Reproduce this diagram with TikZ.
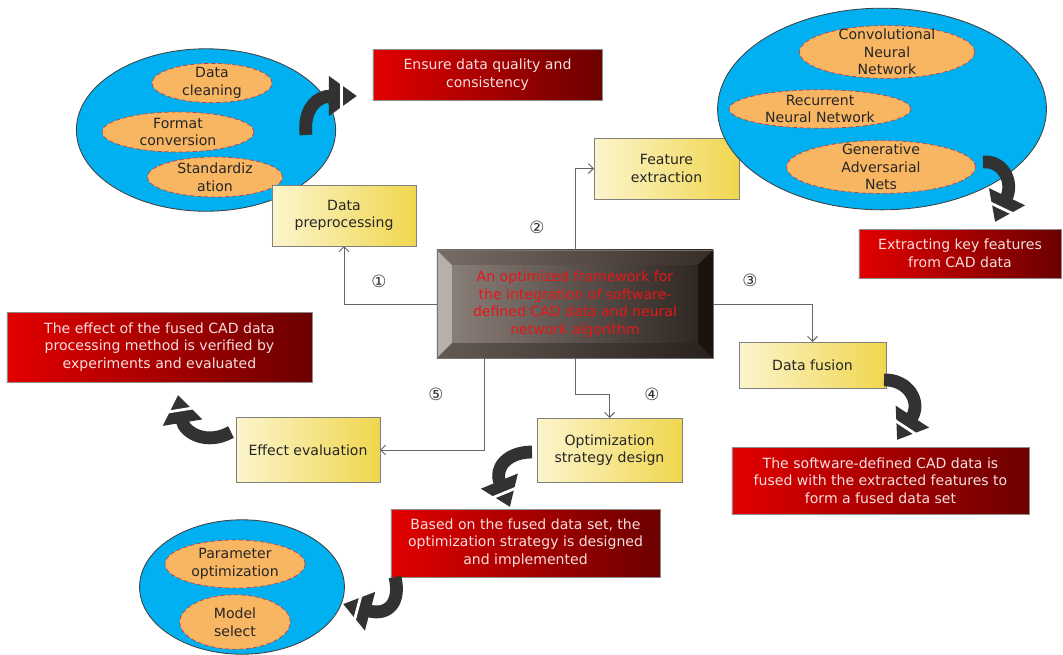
\documentclass[tikz,border=0pt]{standalone}
\usepackage{fontspec}
\setmainfont{DejaVu Sans}
\usetikzlibrary{arrows.meta,calc}

\definecolor{yelL}{RGB}{252,245,205}
\definecolor{yelR}{RGB}{240,214,78}
\definecolor{redL}{RGB}{226,0,0}
\definecolor{redR}{RGB}{108,0,0}
\definecolor{redtxt}{RGB}{248,222,222}
\definecolor{skyfill}{RGB}{0,176,240}
\definecolor{orfill}{RGB}{248,182,98}
\definecolor{dashred}{RGB}{200,60,60}
\definecolor{darkarrow}{RGB}{50,50,50}
\definecolor{innerL}{RGB}{142,130,124}
\definecolor{innerR}{RGB}{42,34,30}
\definecolor{bevTopL}{RGB}{120,108,102}
\definecolor{bevTopR}{RGB}{56,46,40}
\definecolor{bevBotL}{RGB}{100,90,84}
\definecolor{bevBotR}{RGB}{40,32,28}
\definecolor{bevLeft}{RGB}{182,176,173}
\definecolor{bevRight}{RGB}{26,20,16}
\definecolor{titlered}{RGB}{232,22,22}

\begin{document}
\begin{tikzpicture}[
    x=0.025cm, y=-0.025cm,
    every node/.style={font=\fontsize{10}{12.5}\selectfont, outer sep=0pt},
    yelbox/.style={draw=black!50, line width=0.6pt, left color=yelL, right color=yelR,
        align=center, inner sep=0pt, text=black!85},
    redbox/.style={draw=black!45, line width=0.5pt, left color=redL, right color=redR,
        align=center, inner sep=0pt, text=redtxt},
    mainbox/.style={draw=black!55, line width=0.5pt, left color=innerL, right color=innerR,
        align=center, inner sep=0pt, text=titlered, minimum width=6.9cm, minimum height=2.7cm},
    outer/.style={draw=black!75, fill=skyfill, line width=0.6pt},
    inner/.style={draw=dashred, fill=orfill, densely dashed, line width=0.5pt},
    lab/.style={align=center, text=black!85, inner sep=0pt},
    num/.style={font=\fontsize{12}{12}\selectfont, text=black!80, inner sep=0pt},
    link/.style={draw=black!60, line width=0.7pt, -{Straight Barb[length=3.5pt,width=7pt]}},
    curv/.style={draw=darkarrow, line width=0.32cm, -{Triangle[length=0.7cm,width=0.95cm]}},
    gap/.style={draw=white, line width=0.07cm}
]
\useasboundingbox (0,0) rectangle (1063,654);

% preprocessing group
\draw[outer] (206,130) ellipse [x radius=3.24cm, y radius=2.03cm];
\draw[inner] (212,83) ellipse [x radius=1.5cm, y radius=0.49cm];
\draw[inner] (178,132) ellipse [x radius=1.9cm, y radius=0.5cm];
\draw[inner] (215,177) ellipse [x radius=1.69cm, y radius=0.5cm];
\node[lab] (clean) at (212,83) {Data\\cleaning};
\node[lab] (format) at (178,132) {Format\\conversion};
\node[lab] (stand) at (215,177) {Standardiz\\ation};

% central box
\node[mainbox] (main) at (575,304) {An optimized framework for\\the integration of software-\\defined CAD data and neural\\network algorithm};
\fill[left color=bevTopL, right color=bevTopR] (main.north west) -- (main.north east)
    -- ($(main.north east)+(-15,15)$) -- ($(main.north west)+(15,15)$) -- cycle;
\fill[left color=bevBotL, right color=bevBotR] (main.south west) -- (main.south east)
    -- ($(main.south east)+(-15,-15)$) -- ($(main.south west)+(15,-15)$) -- cycle;
\fill[bevLeft] (main.north west) -- ($(main.north west)+(15,15)$)
    -- ($(main.south west)+(15,-15)$) -- (main.south west) -- cycle;
\fill[bevRight] (main.north east) -- ($(main.north east)+(-15,15)$)
    -- ($(main.south east)+(-15,-15)$) -- (main.south east) -- cycle;
\draw[black!55, line width=0.5pt] (main.north west) rectangle (main.south east);

% step boxes
\node[yelbox, minimum width=3.6cm, minimum height=1.525cm] (prep) at (344,215.5) {Data\\preprocessing};
\node[yelbox, minimum width=3.625cm, minimum height=1.525cm] (feat) at (666.5,168.5) {Feature\\extraction};
\node[yelbox, minimum width=3.675cm, minimum height=1.15cm] (fusion) at (812.5,365) {Data fusion};
\node[yelbox, minimum width=3.625cm, minimum height=1.6cm] (opt) at (609.5,450) {Optimization\\strategy design};
\node[yelbox, minimum width=3.6cm, minimum height=1.625cm] (eval) at (308,450) {Effect evaluation};

% feature extraction group
\draw[outer] (882,109) ellipse [x radius=4.11cm, y radius=2.52cm];
\draw[inner] (887,52) ellipse [x radius=2.19cm, y radius=0.66cm];
\draw[inner] (820,109) ellipse [x radius=2.27cm, y radius=0.48cm];
\draw[inner] (881,167) ellipse [x radius=2.36cm, y radius=0.66cm];
\node[lab] (cnn) at (887,52) {Convolutional\\Neural\\Network};
\node[lab] (rnn) at (820,109) {Recurrent\\Neural Network};
\node[lab] (gan) at (881,167) {Generative\\Adversarial\\Nets};

% optimization group
\draw[outer] (242,587) ellipse [x radius=2.56cm, y radius=1.68cm];
\draw[inner] (235,564) ellipse [x radius=1.75cm, y radius=0.6cm];
\draw[inner] (235,622) ellipse [x radius=1.38cm, y radius=0.68cm];
\node[lab] (param) at (235,564) {Parameter\\optimization};
\node[lab] (model) at (235,622) {Model\\select};

% result boxes
\node[redbox, minimum width=5.725cm, minimum height=1.275cm] (ensure) at (487.5,74.5) {Ensure data quality and\\consistency};
\node[redbox, minimum width=5.05cm, minimum height=1.225cm] (extract) at (960,253.5) {Extracting key features\\from CAD data};
\node[redbox, minimum width=7.425cm, minimum height=1.675cm] (fused) at (880.5,480.5) {The software-defined CAD data is\\fused with the extracted features to\\form a fused data set};
\node[redbox, minimum width=6.725cm, minimum height=1.7cm] (based) at (525.5,543) {Based on the fused data set, the\\optimization strategy is designed\\and implemented};
\node[redbox, minimum width=7.625cm, minimum height=1.75cm] (effect) at (159.5,347) {The effect of the fused CAD data\\processing method is verified by\\experiments and evaluated};

% connectors
\draw[link] (main.west) -| (prep.south);
\draw[link] (main.north) |- (feat.west);
\draw[link] (main.east) -| (fusion.north);
\draw[link] (main.south) -- ++(0,36) -| (opt.north);
\draw[link] ($(main.south west)+(48,0)$) |- (eval.east);

\node[num] (n1) at (379,281) {①};
\node[num] (n2) at (537,227) {②};
\node[num] (n3) at (750,280) {③};
\node[num] (n4) at (652,394) {④};
\node[num] (n5) at (436,394) {⑤};

% curved arrows
\coordinate (h1) at (357,96);
\coordinate (k1) at (318,96);
\draw[curv] (306,135) .. controls (303,108) and (k1) .. (h1);
\coordinate (g1) at ($(h1)!0.38cm!(k1)$);
\draw[gap] ($(g1)!0.6cm!90:(h1)$) -- ($(g1)!0.6cm!-90:(h1)$);

\coordinate (h2) at (995,222);
\coordinate (k2) at (1014,182);
\draw[curv] (983,162) .. controls (1003,160) and (k2) .. (h2);
\coordinate (g2) at ($(h2)!0.38cm!(k2)$);
\draw[gap] ($(g2)!0.6cm!90:(h2)$) -- ($(g2)!0.6cm!-90:(h2)$);

\coordinate (h3) at (897,440);
\coordinate (k3) at (922,402);
\draw[curv] (884,380) .. controls (908,379) and (k3) .. (h3);
\coordinate (g3) at ($(h3)!0.38cm!(k3)$);
\draw[gap] ($(g3)!0.6cm!90:(h3)$) -- ($(g3)!0.6cm!-90:(h3)$);

\coordinate (h4) at (510,507);
\coordinate (k4) at (494,468);
\draw[curv] (532,452) .. controls (507,452) and (k4) .. (h4);
\coordinate (g4) at ($(h4)!0.38cm!(k4)$);
\draw[gap] ($(g4)!0.6cm!90:(h4)$) -- ($(g4)!0.6cm!-90:(h4)$);

\coordinate (h5) at (343,604);
\coordinate (k5) at (388,616);
\draw[curv] (395,577) .. controls (401,603) and (k5) .. (h5);
\coordinate (g5) at ($(h5)!0.38cm!(k5)$);
\draw[gap] ($(g5)!0.6cm!90:(h5)$) -- ($(g5)!0.6cm!-90:(h5)$);

\coordinate (h6) at (178,395);
\coordinate (k6) at (184,432);
\draw[curv] (231,432) .. controls (206,446) and (k6) .. (h6);
\coordinate (g6) at ($(h6)!0.38cm!(k6)$);
\draw[gap] ($(g6)!0.6cm!90:(h6)$) -- ($(g6)!0.6cm!-90:(h6)$);

\end{tikzpicture}
\end{document}
